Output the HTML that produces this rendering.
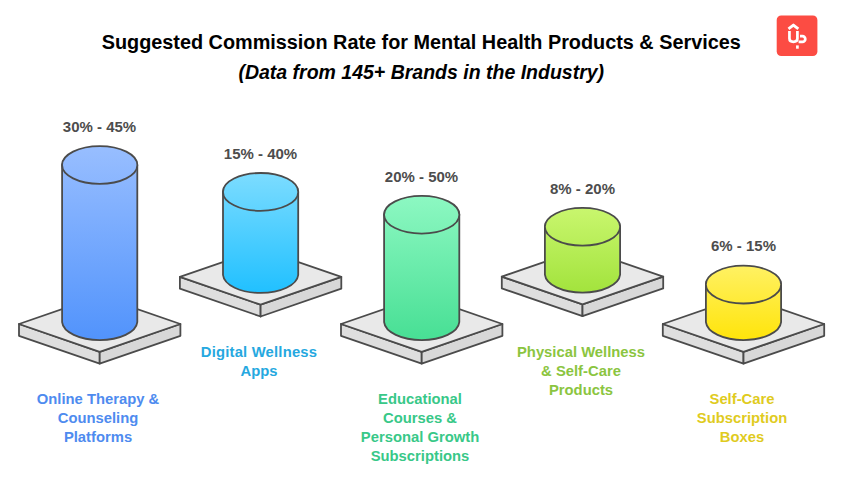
<!DOCTYPE html>
<html><head><meta charset="utf-8"><title>Suggested Commission Rate</title>
<style>
html,body{margin:0;padding:0;background:#fff;}
body{width:848px;height:484px;position:relative;overflow:hidden;font-family:"Liberation Sans",sans-serif;}
svg{position:absolute;left:0;top:0;}
.t{position:absolute;left:0;width:842.5px;text-align:center;font-weight:bold;color:#000;white-space:nowrap;}
.v{position:absolute;width:160px;text-align:center;font-weight:bold;color:#4d4d4d;font-size:15px;line-height:16px;white-space:nowrap;}
.l{position:absolute;width:180px;text-align:center;font-weight:bold;font-size:14.8px;line-height:19px;}
</style></head><body>
<svg width="848" height="484" viewBox="0 0 848 484">
<defs>
<linearGradient id="g0" gradientUnits="userSpaceOnUse" x1="0" y1="146.1" x2="0" y2="341.0"><stop offset="0" stop-color="#98beff"/><stop offset="1" stop-color="#5193fc"/></linearGradient>
<linearGradient id="g1" gradientUnits="userSpaceOnUse" x1="0" y1="173.0" x2="0" y2="293.9"><stop offset="0" stop-color="#7cdcff"/><stop offset="1" stop-color="#20c0ff"/></linearGradient>
<linearGradient id="g2" gradientUnits="userSpaceOnUse" x1="0" y1="195.8" x2="0" y2="341.0"><stop offset="0" stop-color="#8df8c2"/><stop offset="1" stop-color="#47df94"/></linearGradient>
<linearGradient id="g3" gradientUnits="userSpaceOnUse" x1="0" y1="207.9" x2="0" y2="293.6"><stop offset="0" stop-color="#c9f66e"/><stop offset="1" stop-color="#a2e33c"/></linearGradient>
<linearGradient id="g4" gradientUnits="userSpaceOnUse" x1="0" y1="265.7" x2="0" y2="341.0"><stop offset="0" stop-color="#fff163"/><stop offset="1" stop-color="#ffe409"/></linearGradient>
</defs>
<path d="M19.0 324.0 L99.7 351.8 L99.7 363.6 L19.0 335.8 Z" fill="#dedede" stroke="#4b4b4b" stroke-width="1.8" stroke-linejoin="round"/>
<path d="M180.4 324.0 L99.7 351.8 L99.7 363.6 L180.4 335.8 Z" fill="#d8d8d8" stroke="#4b4b4b" stroke-width="1.8" stroke-linejoin="round"/>
<path d="M19.0 324.0 L99.7 296.2 L180.4 324.0 L99.7 351.8 Z" fill="#e9e9e9" stroke="#4b4b4b" stroke-width="1.8" stroke-linejoin="round"/>
<path d="M62.1 165.0 A37.65 18.9 0 0 1 137.3 165.0 L137.3 322.1 A37.65 18.9 0 0 1 62.1 322.1 Z" fill="url(#g0)" stroke="#4b4b4b" stroke-width="1.8"/>
<ellipse cx="99.7" cy="165.0" rx="37.65" ry="18.9" fill="url(#g0)" stroke="#4b4b4b" stroke-width="1.8"/>
<path d="M179.9 276.9 L260.6 304.7 L260.6 316.5 L179.9 288.7 Z" fill="#dedede" stroke="#4b4b4b" stroke-width="1.8" stroke-linejoin="round"/>
<path d="M341.3 276.9 L260.6 304.7 L260.6 316.5 L341.3 288.7 Z" fill="#d8d8d8" stroke="#4b4b4b" stroke-width="1.8" stroke-linejoin="round"/>
<path d="M179.9 276.9 L260.6 249.1 L341.3 276.9 L260.6 304.7 Z" fill="#e9e9e9" stroke="#4b4b4b" stroke-width="1.8" stroke-linejoin="round"/>
<path d="M223.0 191.9 A37.65 18.9 0 0 1 298.2 191.9 L298.2 275.0 A37.65 18.9 0 0 1 223.0 275.0 Z" fill="url(#g1)" stroke="#4b4b4b" stroke-width="1.8"/>
<ellipse cx="260.6" cy="191.9" rx="37.65" ry="18.9" fill="url(#g1)" stroke="#4b4b4b" stroke-width="1.8"/>
<path d="M341.0 324.0 L421.7 351.8 L421.7 363.6 L341.0 335.8 Z" fill="#dedede" stroke="#4b4b4b" stroke-width="1.8" stroke-linejoin="round"/>
<path d="M502.4 324.0 L421.7 351.8 L421.7 363.6 L502.4 335.8 Z" fill="#d8d8d8" stroke="#4b4b4b" stroke-width="1.8" stroke-linejoin="round"/>
<path d="M341.0 324.0 L421.7 296.2 L502.4 324.0 L421.7 351.8 Z" fill="#e9e9e9" stroke="#4b4b4b" stroke-width="1.8" stroke-linejoin="round"/>
<path d="M384.1 214.7 A37.65 18.9 0 0 1 459.3 214.7 L459.3 322.1 A37.65 18.9 0 0 1 384.1 322.1 Z" fill="url(#g2)" stroke="#4b4b4b" stroke-width="1.8"/>
<ellipse cx="421.7" cy="214.7" rx="37.65" ry="18.9" fill="url(#g2)" stroke="#4b4b4b" stroke-width="1.8"/>
<path d="M501.8 276.6 L582.5 304.4 L582.5 316.2 L501.8 288.4 Z" fill="#dedede" stroke="#4b4b4b" stroke-width="1.8" stroke-linejoin="round"/>
<path d="M663.2 276.6 L582.5 304.4 L582.5 316.2 L663.2 288.4 Z" fill="#d8d8d8" stroke="#4b4b4b" stroke-width="1.8" stroke-linejoin="round"/>
<path d="M501.8 276.6 L582.5 248.8 L663.2 276.6 L582.5 304.4 Z" fill="#e9e9e9" stroke="#4b4b4b" stroke-width="1.8" stroke-linejoin="round"/>
<path d="M544.9 226.8 A37.65 18.9 0 0 1 620.1 226.8 L620.1 274.7 A37.65 18.9 0 0 1 544.9 274.7 Z" fill="url(#g3)" stroke="#4b4b4b" stroke-width="1.8"/>
<ellipse cx="582.5" cy="226.8" rx="37.65" ry="18.9" fill="url(#g3)" stroke="#4b4b4b" stroke-width="1.8"/>
<path d="M662.8 324.0 L743.5 351.8 L743.5 363.6 L662.8 335.8 Z" fill="#dedede" stroke="#4b4b4b" stroke-width="1.8" stroke-linejoin="round"/>
<path d="M824.2 324.0 L743.5 351.8 L743.5 363.6 L824.2 335.8 Z" fill="#d8d8d8" stroke="#4b4b4b" stroke-width="1.8" stroke-linejoin="round"/>
<path d="M662.8 324.0 L743.5 296.2 L824.2 324.0 L743.5 351.8 Z" fill="#e9e9e9" stroke="#4b4b4b" stroke-width="1.8" stroke-linejoin="round"/>
<path d="M705.9 284.6 A37.65 18.9 0 0 1 781.1 284.6 L781.1 322.1 A37.65 18.9 0 0 1 705.9 322.1 Z" fill="url(#g4)" stroke="#4b4b4b" stroke-width="1.8"/>
<ellipse cx="743.5" cy="284.6" rx="37.65" ry="18.9" fill="url(#g4)" stroke="#4b4b4b" stroke-width="1.8"/>
<rect x="776.7" y="15.5" width="40.7" height="40.5" rx="4.5" fill="#fc4c43"/>
<g fill="none" stroke="#fff" stroke-width="2.7" stroke-linecap="butt" stroke-linejoin="miter">
<path d="M788.5 28.9 L793.4 25.1 L798.3 28.9" stroke-width="2.9" stroke-linejoin="round"/>
<path d="M789.45 30.9 V38.6 Q789.45 41.9 793.4 41.9 Q797.4 41.9 797.4 38.6 V30.9"/>
<path d="M800 36.1 H802.4 A2.9 2.9 0 0 1 802.4 41.9 H798.6"/>
<path d="M797.4 45.4 V48.7"/>
</g>
</svg>
<div class="t" style="top:30px;font-size:19.84px;line-height:24px;">Suggested Commission Rate for Mental Health Products &amp; Services</div>
<div class="t" style="top:60px;font-size:19.5px;line-height:24px;font-style:italic;">(Data from 145+ Brands in the Industry)</div>

<div class="v" style="left:19.5px;top:118.5px;">30% - 45%</div>
<div class="v" style="left:180.5px;top:145.5px;">15% - 40%</div>
<div class="v" style="left:341.5px;top:168.5px;">20% - 50%</div>
<div class="v" style="left:502.5px;top:180.5px;">8% - 20%</div>
<div class="v" style="left:663.5px;top:237.5px;">6% - 15%</div>

<div class="l" style="left:8px;top:390px;color:#4e8bef;">Online Therapy &amp;<br>Counseling<br>Platforms</div>
<div class="l" style="left:169px;top:342.7px;color:#25a8e0;"><span style="letter-spacing:0.2px">Digital Wellness</span><br>Apps</div>
<div class="l" style="left:330px;top:390px;color:#38c888;">Educational<br>Courses &amp;<br>Personal Growth<br>Subscriptions</div>
<div class="l" style="left:491px;top:342.7px;color:#8bc53f;">Physical Wellness<br>&amp; Self-Care<br>Products</div>
<div class="l" style="left:652px;top:390px;color:#e0cb1e;">Self-Care<br>Subscription<br>Boxes</div>
</body></html>
